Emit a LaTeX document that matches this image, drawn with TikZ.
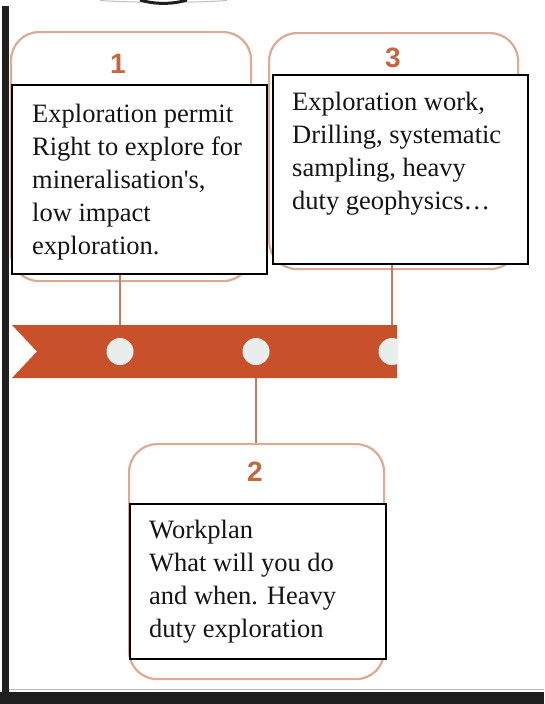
\documentclass[tikz,border=0pt]{standalone}
\usepackage{fontspec}
\setmainfont{Liberation Serif}[Ligatures=TeXOff]
\newfontfamily\numfont{Liberation Sans}
\definecolor{bandred}{HTML}{C8502A}
\definecolor{dotfill}{HTML}{E9EEEC}
\definecolor{boxorange}{HTML}{DDAA94}
\definecolor{linkorange}{HTML}{C97A5E}
\definecolor{numorange}{HTML}{C4673F}
\definecolor{textblack}{HTML}{151515}
\definecolor{framedark}{HTML}{1F1F1F}
\begin{document}
\begin{tikzpicture}[x=1pt,y=-1pt,
  roundbox/.style={draw=boxorange, line width=2.2pt, rounded corners=28pt, fill=white, anchor=north west, inner sep=0pt},
  framebox/.style={draw=black, line width=1.6pt, fill=white, inner sep=0pt, anchor=north west},
  bodytext/.style={anchor=north west, inner sep=0pt, align=left, text=textblack, font=\fontsize{26.5}{33}\selectfont},
  numtext/.style={text=numorange, font=\numfont\bfseries\fontsize{28}{28}\selectfont, inner sep=0pt},
  link/.style={draw=linkorange, line width=2pt},
  dot/.style={circle, fill=dotfill, minimum size=27pt, inner sep=0pt}]
\useasboundingbox (0,0) rectangle (544,704);
\fill[white] (0,0) rectangle (544,704);

% rounded orange cards
\node[roundbox, minimum width=240pt, minimum height=249pt] (r1) at (10,31) {};
\node[roundbox, minimum width=249pt, minimum height=236pt] (r3) at (268,32) {};
\node[roundbox, minimum width=255pt, minimum height=235pt] (r2) at (128,443) {};

% numbers
\node[numtext] (n1) at (118,63.5) {1};
\node[numtext] (n3) at (393,57.5) {3};
\node[numtext] (n2) at (255,471.5) {2};

% timeline points
\coordinate (p1) at (120,351.5);
\coordinate (p2) at (256,351.5);
\coordinate (p3) at (392,351.5);

% text frames
\node[framebox, minimum width=255pt, minimum height=189pt] (f1) at (11,84) {};
\node[framebox, minimum width=255pt, minimum height=189pt] (f3) at (272,74) {};
\node[framebox, minimum width=256pt, minimum height=155pt] (f2) at (129,503) {};

% connectors
\draw[link] (f1.south -| p1) -- (p1);
\draw[link] (f3.south -| p3) -- (p3);
\draw[link] (p2) -- (r2.north -| p2);

% band
\fill[bandred] (12,325) -- (397,325) -- (397,378) -- (12,378) -- (37,351.5) -- cycle;
\begin{scope}
  \clip (12,320) rectangle (397,385);
  \node[dot] (c1) at (p1) {};
  \node[dot] (c2) at (p2) {};
  \node[dot] (c3) at (p3) {};
\end{scope}

% texts
\node[bodytext] (t1) at (32,104) {Exploration permit\\Right to explore for\\mineralisation's,\\low impact\\exploration.};
\node[bodytext] (t3) at (292,92) {Exploration work,\\Drilling, systematic\\sampling, heavy\\duty geophysics\ldots};
\node[bodytext] (t2) at (149,520) {Workplan\\What will you do\\and when. Heavy\\duty exploration};

% dark frame edges
\fill[framedark] (2,6) rectangle (9,704);
\draw[gray!55, line width=1.5pt] (9,689.5) -- (544,689.5);
\fill[framedark] (0,692) rectangle (544,704);
\draw[gray!50, line width=1pt] (100,0.5) .. controls (140,3) and (190,3) .. (227,0.5);
\draw[framedark, line width=3pt] (140,0) .. controls (155,4.5) and (172,4.5) .. (187,0);
\end{tikzpicture}
\end{document}
